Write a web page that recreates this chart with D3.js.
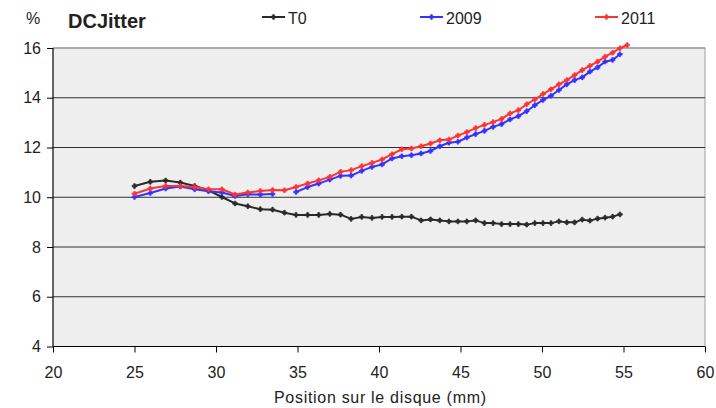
<!DOCTYPE html>
<html>
<head>
<meta charset="utf-8">
<script src="https://cdn.jsdelivr.net/npm/d3@7"></script>
<style>
  html, body { margin: 0; padding: 0; background: #fff; }
  svg { display: block; font-family: "Liberation Sans", Arial, sans-serif; }
</style>
</head>
<body>
<svg id="chart" width="716" height="408"></svg>
<script>
// Radial positions of the measurement points (mm)
const positions = [25.00, 25.97, 26.91, 27.81, 28.69, 29.54, 30.36, 31.17, 31.95, 32.72,
  33.47, 34.20, 34.91, 35.62, 36.30, 36.98, 37.64, 38.29, 38.94, 39.57,
  40.19, 40.80, 41.40, 41.99, 42.58, 43.16, 43.73, 44.29, 44.84, 45.39,
  45.93, 46.47, 47.00, 47.52, 48.04, 48.55, 49.06, 49.56, 50.06, 50.55,
  51.04, 51.52, 52.00, 52.47, 52.94, 53.41, 53.87, 54.33, 54.78, 55.23];

// DC jitter (%) per series
const jitterT0 = [10.45, 10.62, 10.67, 10.59, 10.45, 10.28, 10.01, 9.75, 9.64, 9.52,
  9.50, 9.38, 9.29, 9.29, 9.29, 9.33, 9.30, 9.13, 9.21, 9.17,
  9.21, 9.21, 9.22, 9.22, 9.07, 9.11, 9.07, 9.03, 9.03, 9.03,
  9.07, 8.96, 8.96, 8.92, 8.92, 8.92, 8.90, 8.96, 8.96, 8.96,
  9.03, 8.99, 8.99, 9.10, 9.06, 9.14, 9.18, 9.22, 9.31];

const jitter2009 = [10.01, 10.17, 10.35, 10.43, 10.32, 10.24, 10.19, 10.05, 10.12, 10.11,
  10.13, null, 10.21, 10.41, 10.55, 10.71, 10.86, 10.87, 11.06, 11.22,
  11.32, 11.56, 11.65, 11.69, 11.76, 11.86, 12.05, 12.19, 12.23, 12.40,
  12.54, 12.67, 12.83, 12.94, 13.13, 13.26, 13.46, 13.70, 13.91, 14.08,
  14.31, 14.54, 14.71, 14.82, 15.05, 15.22, 15.45, 15.52, 15.75];

const jitter2011 = [10.14, 10.35, 10.45, 10.45, 10.41, 10.32, 10.32, 10.11, 10.19, 10.25,
  10.29, 10.28, 10.41, 10.55, 10.68, 10.82, 11.02, 11.09, 11.25, 11.38,
  11.52, 11.73, 11.93, 11.96, 12.05, 12.16, 12.29, 12.32, 12.48, 12.62,
  12.78, 12.91, 13.02, 13.15, 13.37, 13.50, 13.74, 13.93, 14.15, 14.34,
  14.54, 14.71, 14.91, 15.11, 15.28, 15.45, 15.65, 15.81, 15.99, 16.12];

const seriesNames = ["T0", "2009", "2011"];
const seriesColors = ["#2a2a2a", "#3333ff", "#ff3333"];
const xTicks = [20, 25, 30, 35, 40, 45, 50, 55, 60];
const yTicks = [4, 6, 8, 10, 12, 14, 16];

const series = [jitterT0, jitter2009, jitter2011].map((vals, i) => ({
  name: seriesNames[i],
  color: seriesColors[i],
  points: vals.map((v, j) => ({ x: positions[j], y: v }))
}));

const svg = d3.select("#chart");
const plot = { left: 53, right: 705, top: 48, bottom: 346.5 };

const x = d3.scaleLinear().domain([20, 60]).range([plot.left, plot.right]);
const y = d3.scaleLinear().domain([4, 16]).range([plot.bottom, plot.top]);

// plot background
svg.append("rect")
  .attr("x", plot.left).attr("y", plot.top)
  .attr("width", plot.right - plot.left).attr("height", plot.bottom - plot.top)
  .attr("fill", "#eeeeee")
  .attr("stroke", "#a0a0a0").attr("stroke-width", 1);

// horizontal gridlines
svg.append("g")
  .selectAll("line")
  .data(yTicks.filter(t => t > 4))
  .join("line")
  .attr("x1", plot.left).attr("x2", plot.right)
  .attr("y1", d => y(d)).attr("y2", d => y(d))
  .attr("stroke", d => d === 16 ? "#8a8a8a" : "#303030")
  .attr("stroke-width", 1);

// axes
const xAxis = d3.axisBottom(x).tickValues(xTicks).tickSize(6).tickPadding(14).tickFormat(d3.format("d"));
const yAxis = d3.axisLeft(y).tickValues(yTicks).tickSize(6).tickPadding(6).tickFormat(d3.format("d"));

const gx = svg.append("g").attr("transform", `translate(0,${plot.bottom})`).call(xAxis);
const gy = svg.append("g").attr("transform", `translate(${plot.left},0)`).call(yAxis);

[gx, gy].forEach(g => {
  g.select(".domain").attr("stroke", "#000").attr("stroke-width", 1);
  g.selectAll(".tick line").attr("stroke", "#000");
  g.selectAll(".tick text")
    .attr("fill", "#222")
    .style("font-family", "'Liberation Sans', Arial, sans-serif")
    .style("font-size", "16px");
});
gy.select(".domain").attr("d", `M0,${plot.top}V${plot.bottom}`);
gx.select(".domain").attr("d", `M${plot.left},0H${plot.right}`);

// axis title
svg.append("text")
  .attr("x", 380).attr("y", 403)
  .attr("text-anchor", "middle")
  .attr("fill", "#222")
  .style("font-size", "16px")
  .attr("textLength", 212)
  .text("Position sur le disque (mm)");

// unit and chart title
svg.append("text").attr("x", 26).attr("y", 24).attr("fill", "#222")
  .style("font-size", "16px").text("%");
svg.append("text").attr("x", 68).attr("y", 28).attr("fill", "#222")
  .style("font-size", "20px").style("font-weight", "bold").text("DCJitter");

// series lines and markers
const line = d3.line()
  .defined(d => d.y != null)
  .x(d => x(d.x)).y(d => y(d.y));

const marker = d3.symbol().type(d3.symbolCross).size(12);

series.forEach(s => {
  const g = svg.append("g");
  g.append("path")
    .datum(s.points)
    .attr("fill", "none")
    .attr("stroke", s.color)
    .attr("stroke-width", 2)
    .attr("stroke-linejoin", "round")
    .attr("d", line);
  g.selectAll("path.m")
    .data(s.points.filter(d => d.y != null))
    .join("path")
    .attr("class", "m")
    .attr("transform", d => `translate(${x(d.x)},${y(d.y)})`)
    .attr("d", marker)
    .attr("fill", s.color)
    .attr("stroke", s.color)
    .attr("stroke-width", 0.8);
});

// legend
const legendX = [262, 420, 595];
series.forEach((s, i) => {
  const g = svg.append("g").attr("transform", `translate(${legendX[i]},17)`);
  g.append("line").attr("x1", 0).attr("x2", 23).attr("y1", 0).attr("y2", 0)
    .attr("stroke", s.color).attr("stroke-width", 2);
  g.append("path").attr("transform", "translate(11.5,0)").attr("d", marker)
    .attr("fill", s.color).attr("stroke", s.color).attr("stroke-width", 0.8);
  g.append("text").attr("x", 26).attr("y", 7).attr("fill", "#222")
    .style("font-size", "16px").text(s.name);
});
</script>
</body>
</html>
